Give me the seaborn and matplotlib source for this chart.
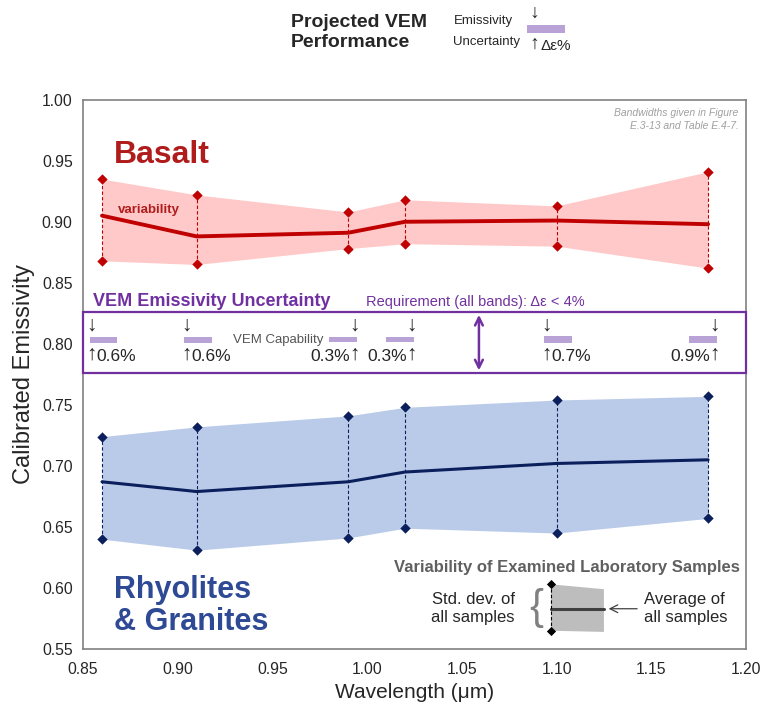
import numpy as np
import pandas as pd
import matplotlib
matplotlib.use('Agg')
import matplotlib.pyplot as plt
from matplotlib.patches import Rectangle, Polygon
import seaborn as sns

# ---- data ----
wavelength = [0.86, 0.91, 0.99, 1.02, 1.10, 1.18]

basalt_mean = [0.905, 0.888, 0.891, 0.900, 0.901, 0.898]
basalt_hi = [0.935, 0.922, 0.908, 0.918, 0.913, 0.941]
basalt_lo = [0.868, 0.865, 0.878, 0.882, 0.880, 0.862]

rhy_mean = [0.687, 0.679, 0.687, 0.695, 0.702, 0.705]
rhy_hi = [0.724, 0.732, 0.741, 0.748, 0.754, 0.757]
rhy_lo = [0.640, 0.631, 0.641, 0.649, 0.645, 0.657]

vem_unc = [0.6, 0.6, 0.3, 0.3, 0.7, 0.9]
vem_labels = ['0.6%', '0.6%', '0.3%', '0.3%', '0.7%', '0.9%']
label_side = ['right', 'right', 'left', 'left', 'right', 'left']

RED = '#c00000'
RED_FILL = '#ffc9c9'
NAVY = '#0b1f5c'
BLUE_FILL = '#bacbe9'
PURPLE = '#7030a0'
BAR = '#b9a3d6'

sns.set_theme(style='white')
plt.rcParams['font.family'] = ['Liberation Sans', 'DejaVu Sans']

fig = plt.figure(figsize=(7.62, 7.07), dpi=100)
ax = fig.add_axes([0.109, 0.082, 0.870, 0.777])

df_b = pd.DataFrame({'wl': wavelength, 'mean': basalt_mean, 'hi': basalt_hi, 'lo': basalt_lo})
df_r = pd.DataFrame({'wl': wavelength, 'mean': rhy_mean, 'hi': rhy_hi, 'lo': rhy_lo})

# bands
ax.fill_between(df_b['wl'], df_b['lo'], df_b['hi'], color=RED_FILL, lw=0, zorder=1)
ax.fill_between(df_r['wl'], df_r['lo'], df_r['hi'], color=BLUE_FILL, lw=0, zorder=1)

# dashed verticals
ax.vlines(df_b['wl'], df_b['lo'], df_b['hi'], colors=RED, linestyles=(0, (3, 2)), lw=0.8, zorder=2)
ax.vlines(df_r['wl'], df_r['lo'], df_r['hi'], colors=NAVY, linestyles=(0, (3, 2)), lw=0.8, zorder=2)

# mean lines
sns.lineplot(data=df_b, x='wl', y='mean', color=RED, lw=2.8, ax=ax, zorder=3)
sns.lineplot(data=df_r, x='wl', y='mean', color=NAVY, lw=2.2, ax=ax, zorder=3)

# diamonds
for d, c in [(df_b, RED), (df_r, NAVY)]:
    pts = pd.concat([d[['wl', 'hi']].rename(columns={'hi': 'v'}),
                     d[['wl', 'lo']].rename(columns={'lo': 'v'})])
    sns.scatterplot(data=pts, x='wl', y='v', marker='D', s=28, color=c,
                    edgecolor=c, linewidth=0, ax=ax, zorder=4)

ax.set_xlim(0.85, 1.20)
ax.set_ylim(0.55, 1.00)
ax.set_xticks(np.arange(0.85, 1.2001, 0.05))
ax.set_yticks(np.arange(0.55, 1.0001, 0.05))
ax.xaxis.set_major_formatter(matplotlib.ticker.FormatStrFormatter('%.2f'))
ax.yaxis.set_major_formatter(matplotlib.ticker.FormatStrFormatter('%.2f'))
ax.tick_params(axis='both', direction='inout', length=7, width=1, color='#808080',
               labelsize=11.3, pad=4)
ax.tick_params(axis='x', pad=6)
for s in ax.spines.values():
    s.set_color('#808080')
    s.set_linewidth(1.2)
ax.set_xlabel('Wavelength (\u03bcm)', fontsize=15, labelpad=4)
ax.set_ylabel('Calibrated Emissivity', fontsize=17, labelpad=5)

# VEM uncertainty box
ax.add_patch(Rectangle((0.85, 0.776), 0.35, 0.050, fill=False, ec=PURPLE, lw=1.6,
                       zorder=5, clip_on=False))
ax.annotate('', xy=(1.059, 0.826), xytext=(1.059, 0.776),
            arrowprops=dict(arrowstyle='<->', color=PURPLE, lw=1.8, mutation_scale=14), zorder=6)
ax.text(0.855, 0.828, 'VEM Emissivity Uncertainty', color=PURPLE, fontsize=13,
        fontweight='bold', va='bottom', ha='left')
ax.text(1.057, 0.8285, 'Requirement (all bands): \u0394\u03b5 < 4%', color=PURPLE,
        fontsize=10.5, va='bottom', ha='center')

bar_w = 0.0145
for wl, u, lab, side in zip(wavelength, vem_unc, vem_labels, label_side):
    h = 0.0025 + u * 0.004
    if side == 'right':
        x0 = wl - 0.0065
        ax_x = x0 + 0.0012
    else:
        x0 = wl - 0.010
        ax_x = x0 + bar_w - 0.0012
    ax.add_patch(Rectangle((x0, 0.8035 - h / 2), bar_w, h, color=BAR, lw=0, zorder=5))
    ax.text(ax_x, 0.8075, '\u2193', fontsize=15, ha='center', va='bottom', zorder=6)
    ax.text(ax_x, 0.7995, '\u2191', fontsize=15, ha='center', va='top', zorder=6)
    if side == 'right':
        ax.text(ax_x + 0.0025, 0.7895, lab, fontsize=12.5, ha='left', va='center')
    else:
        ax.text(ax_x - 0.0025, 0.7895, lab, fontsize=12.5, ha='right', va='center')
ax.text(0.929, 0.8035, 'VEM Capability', color='#555555', fontsize=9.5, ha='left', va='center')

# labels
ax.text(0.8665, 0.955, 'Basalt', color='#b01c1c', fontsize=23, fontweight='bold',
        ha='left', va='center')
ax.text(0.8685, 0.910, 'variability', color='#b01c1c', fontsize=9.5, fontweight='bold',
        ha='left', va='center')
ax.text(1.196, 0.993, 'Bandwidths given in Figure\nE.3-13 and Table E.4-7.', color='#a0a0a0',
        fontsize=7.5, style='italic', ha='right', va='top', linespacing=1.3)
ax.text(0.8665, 0.585, 'Rhyolites\n& Granites', color='#2e4a94', fontsize=22,
        fontweight='bold', ha='left', va='center', linespacing=1.1)

# legend inset for lab samples
ax.text(1.197, 0.617, 'Variability of Examined Laboratory Samples', color='#606060',
        fontsize=12, fontweight='bold', ha='right', va='center')
ax.add_patch(Polygon([(1.097, 0.603), (1.125, 0.599), (1.125, 0.564), (1.097, 0.565)],
                     closed=True, color='#bdbdbd', lw=0, zorder=2))
ax.plot([1.097, 1.125], [0.583, 0.583], color='#404040', lw=2.2, zorder=3)
ax.vlines(1.097, 0.565, 0.603, colors='black', linestyles=(0, (3, 2)), lw=0.8, zorder=3)
ax.scatter([1.097, 1.097], [0.603, 0.565], marker='D', s=22, color='black', lw=0, zorder=4)
ax.text(1.078, 0.5835, 'Std. dev. of\nall samples', fontsize=12, ha='right', va='center',
        linespacing=1.25)
ax.text(1.0895, 0.5835, '{', fontsize=30, ha='center', va='center', color='#808080',
        fontweight='ultralight')
ax.annotate('', xy=(1.126, 0.583), xytext=(1.144, 0.583),
            arrowprops=dict(arrowstyle='->', color='#404040', lw=0.9, mutation_scale=14))
ax.text(1.146, 0.5835, 'Average of\nall samples', fontsize=12, ha='left', va='center',
        linespacing=1.25)

# header
fig.text(0.382, 0.954, 'Projected VEM\nPerformance', fontsize=14, fontweight='bold',
         ha='left', va='center', linespacing=1.3)
fig.text(0.595, 0.970, 'Emissivity', fontsize=9.5, ha='left', va='center')
fig.text(0.595, 0.940, 'Uncertainty', fontsize=9.5, ha='left', va='center')
fig.text(0.701, 0.981, '\u2193', fontsize=14, ha='center', va='center')
fig.text(0.701, 0.938, '\u2191', fontsize=14, ha='center', va='center')
fig.patches.append(Rectangle((0.692, 0.953), 0.049, 0.011, transform=fig.transFigure,
                             color=BAR, lw=0))
fig.text(0.709, 0.935, '\u0394\u03b5%', fontsize=11, ha='left', va='center')

fig.savefig('out.png', dpi=100)
